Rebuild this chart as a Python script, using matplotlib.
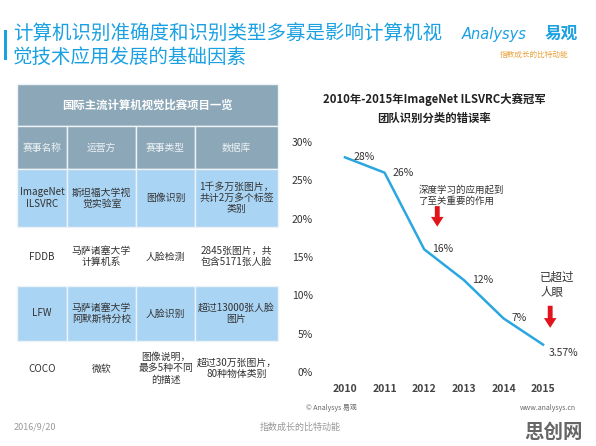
import numpy as np
import matplotlib
matplotlib.use("Agg")
import matplotlib.pyplot as plt
from matplotlib.patches import Rectangle

plt.rcParams['font.family'] = ['Noto Sans CJK SC', 'DejaVu Sans']

# data
years = [2010, 2011, 2012, 2013, 2014, 2015]
error_rate = [28, 26, 16, 12, 7, 3.57]
rate_labels = ["28%", "26%", "16%", "12%", "7%", "3.57%"]
yticks = [0, 5, 10, 15, 20, 25, 30]

table_title = "国际主流计算机视觉比赛项目一览"
col_names = ["赛事名称", "运营方", "赛事类型", "数据库"]
rows = [
    ["ImageNet\nILSVRC", "斯坦福大学视\n觉实验室", "图像识别", "1千多万张图片，\n共计2万多个标签\n类别"],
    ["FDDB", "马萨诸塞大学\n计算机系", "人脸检测", "2845张图片，共\n包含5171张人脸"],
    ["LFW", "马萨诸塞大学\n阿默斯特分校", "人脸识别", "超过13000张人脸\n图片"],
    ["COCO", "微软", "图像说明，\n最多5种不同\n的描述", "超过30万张图片，\n80种物体类别"],
]

W, H = 596, 446
fig = plt.figure(figsize=(W / 100, H / 100), dpi=100)
fig.patch.set_facecolor("white")

def fx(x):
    return x / W

def fy(y):
    return 1 - y / H

blue = "#1ba1e2"

# title
fig.patches.append(Rectangle((fx(4), fy(60)), fx(2.5), 30 / H, transform=fig.transFigure,
                             color=blue, lw=0))
fig.text(fx(13), fy(34), "计算机识别准确度和识别类型多寡是影响计算机视", fontsize=14,
         color=blue, va="center", ha="left")
fig.text(fx(13), fy(57), "觉技术应用发展的基础因素", fontsize=14,
         color=blue, va="center", ha="left")

# logo
fig.text(fx(462), fy(34), "Analysys", fontsize=10.5, color=blue, style="italic",
         family=["DejaVu Sans"], va="center", ha="left")
fig.text(fx(545), fy(34), "易观", fontsize=12, color=blue, weight="bold", va="center", ha="left")
fig.text(fx(534), fy(55), "指数成长的比特动能", fontsize=5.5, color="#e8a33c", va="center", ha="center")

# table
xs = [17, 67, 136, 195, 278]
ys = [84, 126, 169, 227, 286, 341, 396]
head_c = "#8ca7b8"
light_c = "#a9d4f4"
line_c = "#eef3f7"

def cell(x0, y0, x1, y1, fc):
    fig.patches.append(Rectangle((fx(x0), fy(y1)), fx(x1 - x0), (y1 - y0) / H,
                                 transform=fig.transFigure, facecolor=fc,
                                 edgecolor=line_c, lw=1))

cell(xs[0], ys[0], xs[-1], ys[1], head_c)
fig.text(fx((xs[0] + xs[-1]) / 2), fy((ys[0] + ys[1]) / 2), table_title, fontsize=8.2,
         weight="bold", color="white", ha="center", va="center")
for j, name in enumerate(col_names):
    cell(xs[j], ys[1], xs[j + 1], ys[2], head_c)
    fig.text(fx((xs[j] + xs[j + 1]) / 2), fy((ys[1] + ys[2]) / 2), name, fontsize=7,
             color="#eef3f6", ha="center", va="center")
for i, row in enumerate(rows):
    fc = light_c if i % 2 == 0 else "white"
    for j, txt in enumerate(row):
        if fc != "white":
            cell(xs[j], ys[i + 2], xs[j + 1], ys[i + 3], fc)
        fig.text(fx((xs[j] + xs[j + 1]) / 2), fy((ys[i + 2] + ys[i + 3]) / 2), txt,
                 fontsize=7.1, color="#333333", ha="center", va="center", linespacing=1.15)

# line chart
ax = fig.add_axes([fx(320), fy(372), fx(250), 230 / H])
ax.plot(years, error_rate, color="#2aa7e0", lw=1.8)
ax.set_xlim(2009.37, 2015.68)
ax.set_ylim(0, 30)
ax.set_yticks(yticks)
ax.set_yticklabels([f"{v}%" for v in yticks])
ax.set_xticks(years)
for s in ax.spines.values():
    s.set_visible(False)
ax.tick_params(length=0, labelsize=7.5, colors="#333333")
ax.tick_params(axis="y", pad=5)
ax.tick_params(axis="x", pad=9)
for lab in ax.get_xticklabels():
    lab.set_fontweight("bold")
    lab.set_color("#444444")
ax.patch.set_alpha(0)

for i, (x, v, lab) in enumerate(zip(years, error_rate, rate_labels)):
    off = (4, -6) if i == len(years) - 1 else (6, 0)
    ax.annotate(lab, (x, v), xytext=off, textcoords="offset points", fontsize=7.5,
                color="#333333", ha="left", va="center")

ax.text(2011.85, 24.4, "深度学习的应用起到\n了至关重要的作用", fontsize=6.8, color="#333333",
        ha="left", va="top", linespacing=1.2)
ax.annotate("", xy=(2012.33, 18.6), xytext=(2012.33, 22),
            arrowprops=dict(arrowstyle="simple,head_width=0.9,head_length=0.7,tail_width=0.35",
                            color="#e3131b", lw=0))
ax.text(2014.93, 13.2, "已超过\n人眼", fontsize=8.3, color="#333333", ha="left", va="top",
        linespacing=1.1)
ax.annotate("", xy=(2015.18, 5.4), xytext=(2015.18, 9.0),
            arrowprops=dict(arrowstyle="simple,head_width=0.9,head_length=0.7,tail_width=0.35",
                            color="#e3131b", lw=0))

fig.text(fx(434), fy(100), "2010年-2015年ImageNet ILSVRC大赛冠军", fontsize=8.2, weight="bold",
         color="#222222", ha="center", va="center")
fig.text(fx(434), fy(118), "团队识别分类的错误率", fontsize=8.2, weight="bold",
         color="#222222", ha="center", va="center")

# footer
fig.text(fx(331), fy(408), "© Analysys 易观", fontsize=5, color="#666666", ha="center", va="center")
fig.text(fx(548), fy(408), "www.analysys.cn", fontsize=5, color="#666666", ha="center", va="center")
fig.text(fx(14), fy(427), "2016/9/20", fontsize=6.5, color="#999999", ha="left", va="center")
fig.text(fx(300), fy(427), "指数成长的比特动能", fontsize=6.5, color="#999999", ha="center", va="center")
fig.text(fx(554), fy(432), "思创网", fontsize=14, weight="bold", color="#555555", ha="center",
         va="center", alpha=0.9)

fig.savefig("out.png", dpi=100)
